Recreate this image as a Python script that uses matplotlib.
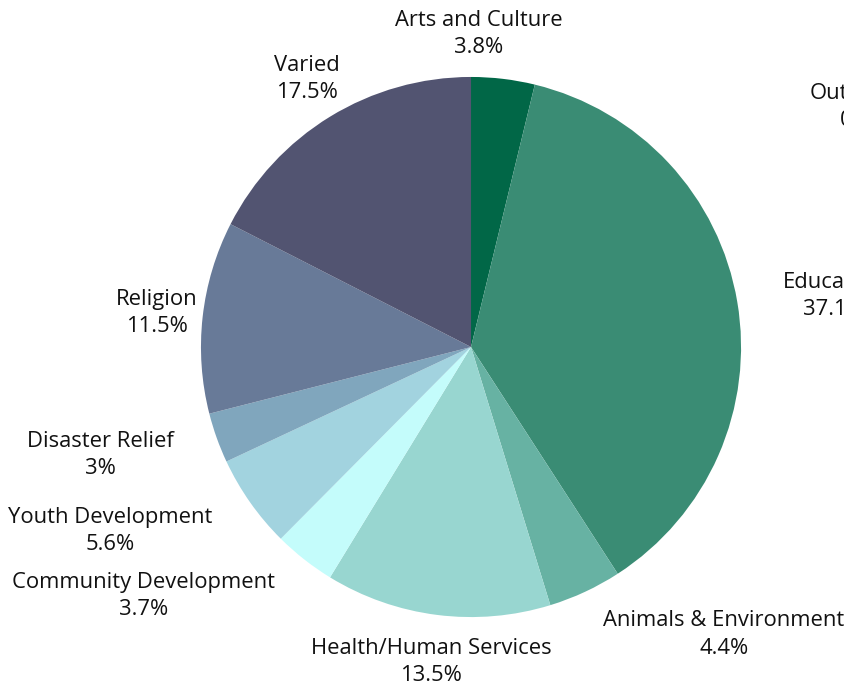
import matplotlib
matplotlib.use("Agg")
import matplotlib.pyplot as plt
import numpy as np

# slices, clockwise from 12 o'clock
categories = ["Arts and Culture", "Education", "Animals & Environment",
              "Health/Human Services", "Community Development", "Youth Development",
              "Disaster Relief", "Religion", "Varied"]
shares = [3.8, 37.1, 4.4, 13.5, 3.7, 5.6, 3.0, 11.5, 17.5]
share_text = ["3.8%", "37.1%", "4.4%", "13.5%", "3.7%", "5.6%", "3%", "11.5%", "17.5%"]
colors = ["#016747", "#3a8c74", "#67b2a3", "#98d6d0", "#c4fcfb",
          "#a2d3df", "#80a6bd", "#687a98", "#525471"]

# label centres in pie-radius units (layout only)
LABEL_POS = {
    "Arts and Culture": (0.03, 1.159),
    "Education": (1.344, 0.188),
    "Animals & Environment": (0.937, -1.064),
    "Health/Human Services": (-0.148, -1.167),
    "Community Development": (-1.211, -0.923),
    "Youth Development": (-1.337, -0.682),
    "Disaster Relief": (-1.374, -0.401),
    "Religion": (-1.163, 0.125),
    "Varied": (-0.607, 0.992),
}

plt.rcParams["font.family"] = ["Open Sans", "DejaVu Sans"]
FS = 15.8

fig = plt.figure(figsize=(8.44, 6.87), dpi=100)
ax = fig.add_axes([0, 0, 1, 1])
ax.pie(shares, colors=colors, startangle=90, counterclock=False, radius=1.0,
       wedgeprops=dict(linewidth=0))
for cat, txt in zip(categories, share_text):
    x, y = LABEL_POS[cat]
    ax.text(x, y, f"{cat}\n{txt}", ha="center", va="center", fontsize=FS,
            color="#111111", linespacing=1.4)
# label clipped by the right edge, as in the original image
ax.text(1.255, 0.937, "Outreach", ha="left", va="center", fontsize=FS, color="#111111")
ax.text(1.366, 0.837, "0%", ha="left", va="center", fontsize=FS, color="#111111")

ax.set_xlim(-1.744, 1.381)
ax.set_ylim(-1.259, 1.285)
ax.set_aspect("equal")
ax.axis("off")
fig.savefig("out.png", dpi=100, facecolor="white")
